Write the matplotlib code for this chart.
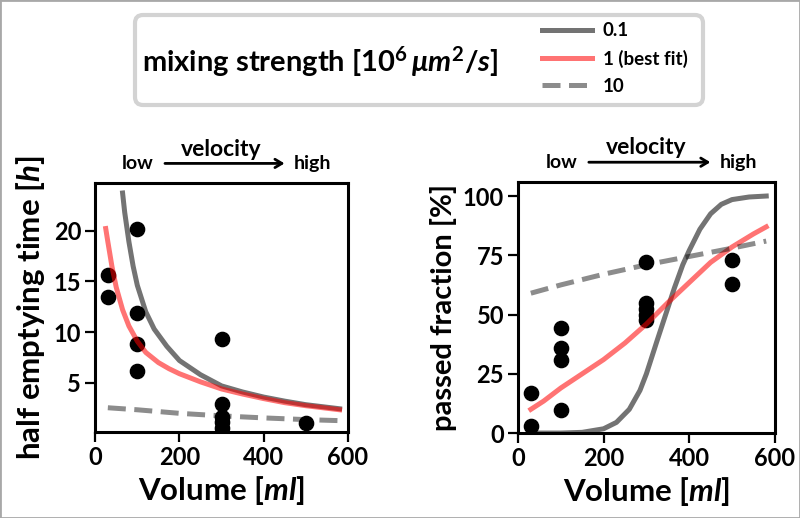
import matplotlib
matplotlib.use('Agg')
import matplotlib.pyplot as plt
from matplotlib.lines import Line2D
from matplotlib.patches import FancyBboxPatch, Rectangle

plt.rcParams['font.family'] = 'Lato'
plt.rcParams['font.weight'] = 'bold'
plt.rcParams['axes.labelweight'] = 'bold'
plt.rcParams['mathtext.fontset'] = 'custom'
plt.rcParams['mathtext.rm'] = 'Lato:bold'
plt.rcParams['mathtext.it'] = 'Lato:italic:bold'

# measured half emptying times
vol_half = [30, 30, 100, 100, 100, 100, 300, 300, 300, 300, 300, 500]
t_half = [15.6, 13.5, 20.2, 11.9, 8.8, 6.2, 9.3, 2.9, 1.6, 1.1, 0.6, 1.0]

# measured passed fractions
vol_pass = [30, 30, 100, 100, 100, 100, 300, 300, 300, 300, 300, 500, 500]
passed = [17, 3, 44.3, 36, 30.8, 9.6, 72.3, 55, 52.5, 50, 47.5, 73.2, 63]

# model curves, half emptying time
v_low_t = [65, 70, 80, 90, 100, 120, 140, 170, 200, 250, 300, 350, 400, 450, 500, 580]
t_low = [23.7, 21.8, 18.9, 16.5, 14.6, 12.0, 10.3, 8.6, 7.2, 5.8, 4.7, 4.1, 3.6, 3.2, 2.85, 2.45]
v_best_t = [25, 30, 40, 50, 65, 80, 100, 120, 150, 175, 200, 250, 300, 350, 400, 450, 500, 580]
t_best = [20.2, 18.9, 16.4, 14.4, 12.2, 10.6, 9.1, 8.0, 7.0, 6.4, 5.9, 5.1, 4.4, 3.9, 3.45, 3.05, 2.75, 2.35]
v_high_t = [30, 100, 200, 300, 400, 500, 580]
t_high = [2.55, 2.35, 2.0, 1.75, 1.55, 1.38, 1.28]

# model curves, passed fraction
v_low_p = [30, 100, 150, 200, 230, 260, 285, 300, 325, 345, 365, 385, 400, 425, 450, 475, 500, 540, 580]
p_low = [0, 0, 0.3, 1.8, 4.5, 10, 18, 25, 39, 50, 61, 71, 77, 86, 92.5, 96.5, 98.5, 99.6, 100]
v_best_p = [30, 60, 100, 150, 200, 250, 300, 350, 400, 450, 500, 550, 580]
p_best = [10, 13.5, 19, 25, 31, 38, 46, 55, 63.5, 72, 78.5, 84, 87]
v_high_p = [30, 100, 200, 300, 400, 500, 580]
p_high = [59, 62.5, 67, 71, 74.5, 78, 81]

labels = ['0.1', '1 (best fit)', '10']
styles = [dict(color='k', alpha=0.55, lw=3.6, ls='-'),
          dict(color='red', alpha=0.55, lw=3.6, ls='-'),
          dict(color='k', alpha=0.45, lw=3.6, ls=(0, (3.6, 1.7)))]

fig = plt.figure(figsize=(8, 5.18), dpi=100)
ax1 = fig.add_axes([0.119, 0.166, 0.316, 0.481])
ax2 = fig.add_axes([0.6475, 0.164, 0.321, 0.485])

ax1.scatter(vol_half, t_half, s=105, color='k', zorder=1)
for (v, t), st in zip([(v_low_t, t_low), (v_best_t, t_best), (v_high_t, t_high)], styles):
    ax1.plot(v, t, zorder=2, **st)
ax1.set_xlim(0, 600)
ax1.set_ylim(0.16, 24.7)
ax1.set_yticks([5, 10, 15, 20], ['5', '10', '15', '20'], fontweight='bold')
ax1.set_ylabel('half emptying time [$h$]', fontsize=22.5, labelpad=5)

ax2.scatter(vol_pass, passed, s=105, color='k', zorder=1)
for (v, p), st in zip([(v_low_p, p_low), (v_best_p, p_best), (v_high_p, p_high)], styles):
    ax2.plot(v, p, zorder=2, **st)
ax2.set_xlim(0, 600)
ax2.set_ylim(0, 106)
ax2.set_yticks([0, 25, 50, 75, 100], ['0', '25', '50', '75', '100'], fontweight='bold')
ax2.set_ylabel('passed fraction [%]', fontsize=21)

for ax in (ax1, ax2):
    ax.set_xticks([0, 200, 400, 600], ['0', '200', '400', '600'], fontweight='bold')
    ax.set_xlabel('Volume [$ml$]', fontsize=22.5, labelpad=4)
    ax.tick_params(labelsize=17, length=7, width=1.6, pad=3)
    for sp in ax.spines.values():
        sp.set_linewidth(2.2)
    ax.annotate('', xy=(0.76, 1.078), xytext=(0.265, 1.078), xycoords='axes fraction',
                arrowprops=dict(arrowstyle='->,head_length=0.5,head_width=0.3', color='k', lw=2),
                annotation_clip=False)
    ax.text(0.168, 1.078, 'low', transform=ax.transAxes, ha='center', va='center', fontsize=14)
    ax.text(0.86, 1.078, 'high', transform=ax.transAxes, ha='center', va='center', fontsize=14)
    ax.text(0.5, 1.135, 'velocity', transform=ax.transAxes, ha='center', va='center', fontsize=16.5)

# legend box with title on the left
box = FancyBboxPatch((1.35, 4.13), 5.68, 0.9, boxstyle='round,pad=0,rounding_size=0.08',
                     transform=fig.dpi_scale_trans, facecolor='white', edgecolor='#d3d3d3', lw=3)
fig.patches.append(box)
fig.text(0.178, 0.861, r'mixing strength [$10^6\,\mu m^2/s$]', fontsize=21, va='baseline')
handles = [Line2D([], [], **st) for st in styles]
fig.legend(handles, labels, loc='center left', bbox_to_anchor=(0.677, 0.887), frameon=False,
           fontsize=13.5, handlelength=2.7, handletextpad=0.55, labelspacing=0.55, borderpad=0,
           borderaxespad=0)

fig.patches.append(Rectangle((0, 0), 1, 1, transform=fig.transFigure, fill=False,
                             edgecolor='#a8a8a8', lw=2))

fig.savefig('out.png', dpi=100)
